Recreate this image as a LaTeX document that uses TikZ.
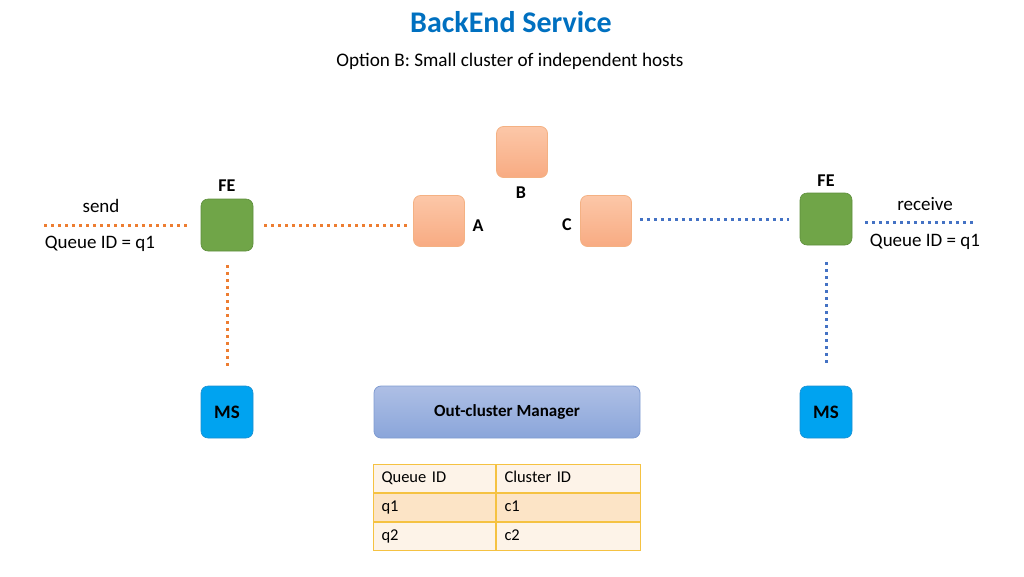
\documentclass[tikz,border=0pt]{standalone}
\usepackage{fontspec}
\setmainfont{Carlito}
\usetikzlibrary{calc}
\definecolor{titleblue}{HTML}{0070C0}
\definecolor{feGreen}{HTML}{70A548}
\definecolor{feEdge}{HTML}{5E8E3C}
\definecolor{peachTop}{HTML}{FCC7A8}
\definecolor{peachBot}{HTML}{F8AB82}
\definecolor{peachEdge}{HTML}{F4B183}
\definecolor{msBlue}{HTML}{00A3F0}
\definecolor{msEdge}{HTML}{1C8FD0}
\definecolor{mgrTop}{HTML}{AEBFE5}
\definecolor{mgrBot}{HTML}{8AA5DA}
\definecolor{mgrEdge}{HTML}{7F9BD1}
\definecolor{lineOrange}{HTML}{ED7D31}
\definecolor{lineBlue}{HTML}{4472C4}
\definecolor{tabEdge}{HTML}{F5C242}
\definecolor{tabLight}{HTML}{FDF3E8}
\definecolor{tabDark}{HTML}{FCE4C6}
\tikzset{
  host/.style={draw=peachEdge, line width=0.8pt, rounded corners=7pt, top color=peachTop, bottom color=peachBot, minimum width=51pt, minimum height=51pt, inner sep=0pt},
  febox/.style={draw=feEdge, line width=0.6pt, rounded corners=7pt, fill=feGreen, minimum width=52pt, minimum height=52pt, inner sep=0pt},
  msbox/.style={draw=msEdge, line width=0.6pt, rounded corners=7pt, fill=msBlue, minimum width=52pt, minimum height=52pt, inner sep=0pt, font=\fontsize{19}{19}\selectfont\bfseries},
  mgrbox/.style={draw=mgrEdge, line width=0.8pt, rounded corners=7pt, top color=mgrTop, bottom color=mgrBot, minimum width=266pt, minimum height=52pt, inner sep=0pt, font=\fontsize{17}{17}\selectfont\bfseries},
  lbl/.style={font=\fontsize{18}{18}\selectfont\bfseries, inner sep=0pt},
  txt/.style={font=\fontsize{19}{19}\selectfont, inner sep=0pt},
  odot/.style={draw=lineOrange, line width=3pt, dash pattern=on 3pt off 4pt},
  bdot/.style={draw=lineBlue, line width=3pt, dash pattern=on 3pt off 4pt},
  cell/.style={draw=tabEdge, line width=1pt, minimum height=28pt, inner sep=0pt, inner xsep=8pt, text width=106pt, text height=11pt, text depth=3pt, align=left, font=\fontsize{16.5}{16.5}\selectfont},
}
\begin{document}
\begin{tikzpicture}[x=1pt,y=-1pt]
\useasboundingbox (0,0) rectangle (1024,576);
% titles
\node[font=\fontsize{30}{30}\selectfont\bfseries, text=titleblue, inner sep=0pt] (title) at (511,22) {BackEnd Service};
\node[font=\fontsize{19.2}{19.2}\selectfont, inner sep=0pt] (sub) at (510,61) {Option B: Small cluster of independent hosts};
% hosts
\node[host] (a) at (439,221) {};
\node[host] (b) at (522,152) {};
\node[host] (c) at (606,221) {};
\node[lbl] (alab) at (478,226) {A};
\node[lbl] (blab) at (521,193) {B};
\node[lbl] (clab) at (567,225) {C};
% FE
\node[febox] (fe1) at (227,225) {};
\node[febox] (fe2) at (826,219) {};
\node[lbl] (fe1lab) at (227,186) {FE};
\node[lbl] (fe2lab) at (826,181) {FE};
% MS
\node[msbox] (ms1) at (227,412) {MS};
\node[msbox] (ms2) at (826,412) {MS};
% manager
\node[mgrbox] (mgr) at (507,412) {Out-cluster Manager};
% table
\node[cell, fill=tabLight, anchor=north west] (h1) at (373,464) {Queue ID};
\node[cell, fill=tabLight, anchor=north west, text width=128pt] (h2) at (h1.north east) {Cluster ID};
\node[cell, fill=tabDark, anchor=north west] (r1a) at (h1.south west) {q1};
\node[cell, fill=tabDark, anchor=north west, text width=128pt] (r1b) at (r1a.north east) {c1};
\node[cell, fill=tabLight, anchor=north west] (r2a) at (r1a.south west) {q2};
\node[cell, fill=tabLight, anchor=north west, text width=128pt] (r2b) at (r2a.north east) {c2};
% free ends
\coordinate (sendEnd) at (44,225);
\coordinate (recvEnd) at (976,222);
% connectors
\draw[odot] (sendEnd) -- ([xshift=-12pt]fe1.west);
\draw[odot] ([xshift=11pt]fe1.east) -- ([xshift=-6pt]a.west |- fe1.east);
\draw[odot] ([yshift=-14pt]fe1.south) -- ([yshift=18pt]ms1.north);
\draw[bdot] ([xshift=8pt]c.east |- fe2.west) -- ([xshift=-11pt]fe2.west);
\draw[bdot] ([xshift=13pt]fe2.east |- recvEnd) -- (recvEnd);
\draw[bdot] ([yshift=-17pt]fe2.south) -- ([yshift=19pt]ms2.north);
% labels
\node[txt] (send) at (101,206) {send};
\node[txt] (q1l) at (100,244) {Queue ID = q1};
\node[txt] (recv) at (925,204) {receive};
\node[txt] (q1r) at (925,242) {Queue ID = q1};
\end{tikzpicture}
\end{document}
